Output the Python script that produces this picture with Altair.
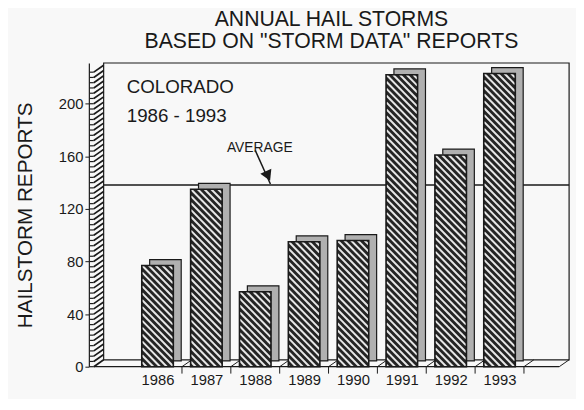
import altair as alt
import pandas as pd

# ---- data ----
years = [1986, 1987, 1988, 1989, 1990, 1991, 1992, 1993]
reports = [77, 135, 57, 95, 96, 222, 161, 223]
average_value = 133
y_tick_values = list(range(0, 229, 4))
y_label_values = [0, 40, 80, 120, 160, 200]
boundaries = [1986.5, 1987.5, 1988.5, 1989.5, 1990.5, 1991.5, 1992.5, 1993.5]
x_domain = [1984.695, 1994.424]
y_domain = [0, 231]

title_lines = ["ANNUAL HAIL STORMS", 'BASED ON "STORM DATA" REPORTS']
note_lines = ["COLORADO", "1986 - 1993"]
note_x = [1985.37, 1985.37]
note_y = [208, 186]
avg_label = "AVERAGE"
avg_label_pos = (1987.42, 163)
arrow_from = (1988.0, 164.5)
arrow_to = (1988.31, 139)

FONT = "Liberation Sans"
INK = "#1a1a1a"
DEPTH_X = 8
DEPTH_Y = -6
WALL_X = 10
WALL_Y = -7
BAR_PX = 32
PLOT_W, PLOT_H = 492, 308
PX_PER_YEAR = PLOT_W / (x_domain[1] - x_domain[0])
PX_PER_UNIT = PLOT_H / (y_domain[1] - y_domain[0])
HALF_W = BAR_PX / 2 / PX_PER_YEAR          # half bar width in years
DROP = BAR_PX / PX_PER_UNIT                 # 45 degree drop across the bar, in units
GAP = 7 / PX_PER_UNIT                       # vertical stripe spacing, in units

bars = pd.DataFrame({"year": years, "reports": reports, "base": [0] * len(years)})
ticks_df = pd.DataFrame({"v": y_tick_values[:-1], "x0": [x_domain[0]] * (len(y_tick_values) - 1)})
bound_df = pd.DataFrame({"b": boundaries, "zero": [0] * len(boundaries)})
frame_df = pd.DataFrame({"x0": [x_domain[0]], "x1": [x_domain[1]], "y0": [y_domain[0]], "y1": [y_domain[1]]})
avg_df = pd.DataFrame({"x0": [x_domain[0]], "x1": [x_domain[1]], "avg": [average_value]})
notes_df = pd.DataFrame({"x": note_x, "y": note_y, "t": note_lines})
avg_lbl_df = pd.DataFrame({"x": [avg_label_pos[0]], "y": [avg_label_pos[1]], "t": [avg_label]})
arrow_df = pd.DataFrame({"x": [arrow_from[0]], "y": [arrow_from[1]], "x2": [arrow_to[0]], "y2": [arrow_to[1]]})
head_df = pd.DataFrame({"x": [arrow_to[0] - 0.05], "y": [arrow_to[1] + 6]})
end_df = pd.DataFrame({"x": [x_domain[1]], "y": [0]})

xs = alt.Scale(domain=x_domain, nice=False, zero=False)
ys = alt.Scale(domain=y_domain, nice=False, zero=True)

x_axis = alt.Axis(values=years, format="d", ticks=False, domain=False, grid=False,
                  labelFont=FONT, labelFontSize=15, labelColor=INK, labelPadding=6, title=None)
y_axis = alt.Axis(values=y_label_values, grid=False, tickSize=4, tickColor=INK, domainColor=INK,
                  domainWidth=1.2, labelOverlap=False, format="d",
                  labelFont=FONT, labelFontSize=15, labelColor=INK, labelPadding=2,
                  title="HAILSTORM REPORTS", titleFont=FONT, titleFontSize=21,
                  titleFontWeight="normal", titleColor=INK, titleX=-64, titleY=154,
                  titleAngle=270, titleAlign="center", titleBaseline="middle")

# back wall frame
frame = alt.Chart(frame_df).mark_rect(
    fillOpacity=0, stroke=INK, strokeWidth=1.2, xOffset=WALL_X, yOffset=WALL_Y
).encode(
    x=alt.X("x0:Q", scale=xs, axis=x_axis), x2="x1:Q",
    y=alt.Y("y0:Q", scale=ys, axis=y_axis), y2="y1:Q",
)

# left wall hatching and minor ticks
wall = alt.Chart(ticks_df).mark_rule(
    color=INK, strokeWidth=1.7, x2Offset=WALL_X, y2Offset=WALL_Y
).encode(x="x0:Q", x2="x0:Q", y="v:Q", y2="v:Q")
minor_ticks = alt.Chart(ticks_df).mark_rule(
    color=INK, strokeWidth=1.2, x2Offset=-4
).encode(x="x0:Q", x2="x0:Q", y="v:Q")

# floor front edge
floor_front = alt.Chart(frame_df).mark_rule(color=INK, strokeWidth=1.2, x2Offset=-WALL_X).encode(
    x="x0:Q", x2="x1:Q", y="y0:Q"
)
floor_end = alt.Chart(end_df).mark_rule(color=INK, strokeWidth=1, xOffset=-WALL_X, y2Offset=WALL_Y).encode(
    x="x:Q", x2="x:Q", y="y:Q", y2="y:Q"
)
floor_diag = alt.Chart(bound_df).mark_rule(color=INK, strokeWidth=1, x2Offset=WALL_X, y2Offset=WALL_Y).encode(
    x="b:Q", x2="b:Q", y="zero:Q", y2="zero:Q"
)
x_ticks = alt.Chart(bound_df).mark_rule(color=INK, strokeWidth=1, y2Offset=7).encode(
    x="b:Q", y="zero:Q", y2="zero:Q"
)

# average line on the back wall
avg_line = alt.Chart(avg_df).mark_rule(color=INK, strokeWidth=1.5, xOffset=WALL_X, yOffset=WALL_Y).encode(
    x="x0:Q", x2="x1:Q", y="avg:Q"
)

# 3D bars: side/top block, dark front face, hatching, outline
bar_back = alt.Chart(bars).mark_bar(
    width=BAR_PX, xOffset=DEPTH_X, yOffset=DEPTH_Y, y2Offset=DEPTH_Y,
    fill="#b0b0b0", stroke=INK, strokeWidth=1.2
).encode(x="year:Q", y="reports:Q", y2="base:Q")
bar_front = alt.Chart(bars).mark_bar(
    width=BAR_PX, fill="#242424", strokeWidth=0
).encode(x="year:Q", y="reports:Q", y2="base:Q")

hatch = alt.Chart(bars).transform_calculate(
    ks=f"sequence(-6, ceil(datum.reports / {GAP}) + 2)"
).transform_flatten(["ks"], as_=["k"]).transform_calculate(
    vL=f"datum.reports - datum.k * {GAP}"
).transform_calculate(
    t0=f"max(0, (datum.vL - datum.reports) / {DROP})",
    t1=f"min(1, datum.vL / {DROP})",
).transform_filter("datum.t1 > datum.t0 + 0.02").transform_calculate(
    xa=f"datum.year - {HALF_W} + datum.t0 * {2 * HALF_W}",
    xb=f"datum.year - {HALF_W} + datum.t1 * {2 * HALF_W}",
    ya=f"datum.vL - {DROP} * datum.t0",
    yb=f"datum.vL - {DROP} * datum.t1",
).mark_rule(color="#e6e6e6", strokeWidth=2).encode(
    x="xa:Q", x2="xb:Q", y="ya:Q", y2="yb:Q"
)
bar_outline = alt.Chart(bars).mark_bar(
    width=BAR_PX, fillOpacity=0, stroke=INK, strokeWidth=1.6
).encode(x="year:Q", y="reports:Q", y2="base:Q")

notes = alt.Chart(notes_df).mark_text(
    font=FONT, fontSize=19, color=INK, align="left", baseline="alphabetic"
).encode(x="x:Q", y="y:Q", text="t:N")

avg_text = alt.Chart(avg_lbl_df).mark_text(
    font=FONT, fontSize=14, color=INK, align="left", baseline="alphabetic"
).encode(x="x:Q", y="y:Q", text="t:N")

arrow = alt.Chart(arrow_df).mark_rule(color=INK, strokeWidth=1.5).encode(
    x="x:Q", x2="x2:Q", y="y:Q", y2="y2:Q"
)
head = alt.Chart(head_df).mark_point(
    shape="triangle-down", filled=True, color=INK, size=150, angle=336, opacity=1
).encode(x="x:Q", y="y:Q")

chart = alt.layer(
    frame, wall, minor_ticks, floor_front, floor_end, floor_diag, x_ticks, avg_line,
    bar_back, bar_front, hatch, bar_outline, notes, avg_text, arrow, head
).properties(
    width=PLOT_W, height=PLOT_H,
    title=alt.TitleParams(title_lines, font=FONT, fontSize=21.5, fontWeight="normal",
                          color=INK, anchor="middle", offset=10, lineHeight=22),
    autosize=alt.AutoSizeParams(type="none"),
    padding={"left": 82, "top": 53, "right": 2, "bottom": 30},
    background="#f8f8f8",
).configure_view(stroke=None)

chart.save("out.html", embed_options={"renderer": "svg", "actions": False})
